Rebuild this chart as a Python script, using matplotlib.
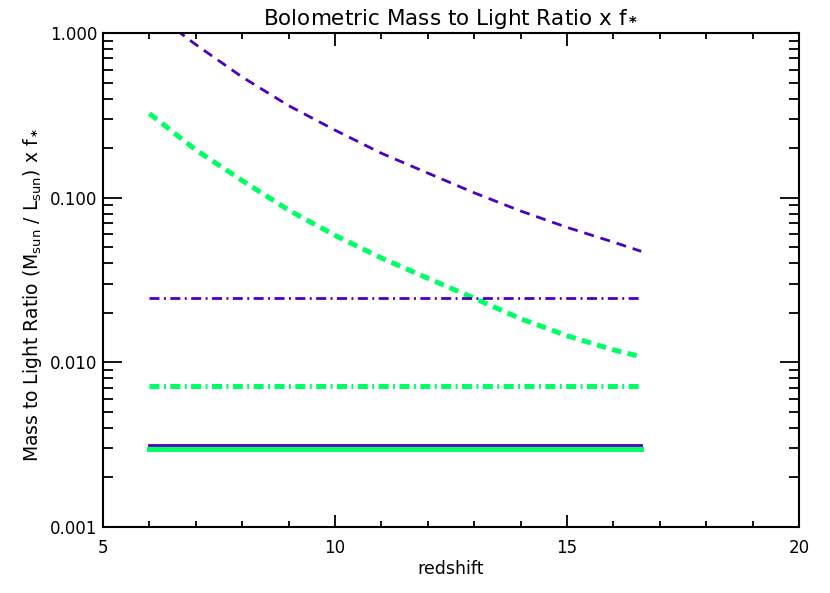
import numpy as np
import matplotlib
matplotlib.use('Agg')
import matplotlib.pyplot as plt
from matplotlib.ticker import FixedLocator, FixedFormatter, LogLocator, NullFormatter, MultipleLocator

plt.rcParams['font.family'] = ['DejaVu Sans']
plt.rcParams['mathtext.fontset'] = 'dejavusans'
plt.rcParams['lines.scale_dashes'] = False

# redshift grid of the curves
z = [6, 7, 8, 9, 10, 11, 12, 13, 14, 15, 16, 16.6]
# dashed curves
ml_purple_dash = [1.38, 0.85, 0.54, 0.362, 0.257, 0.186, 0.141, 0.107, 0.083, 0.066, 0.0537, 0.0472]
ml_green_dash = [0.324, 0.195, 0.127, 0.084, 0.059, 0.043, 0.0324, 0.0245, 0.0184, 0.0145, 0.0119, 0.0108]
# constant levels
z_flat = [6.0, 16.6]
ml_purple_dashdot = 0.0246
ml_green_dashdot = 0.0072
ml_purple_solid = 0.00315
ml_green_solid = 0.00296

purple = '#4c00c4'
green = '#00ff64'

fig = plt.figure(figsize=(8.3, 5.93), dpi=100)
ax = fig.add_axes([0.1241, 0.1113, 0.8386, 0.8331])

ax.plot(z, ml_purple_dash, color=purple, lw=2.0, dashes=(7.2, 5.0))
ax.plot(z, ml_green_dash, color=green, lw=3.6, dashes=(6.8, 4.6))
ax.plot(z_flat, [ml_purple_dashdot] * 2, color=purple, lw=2.0, dashes=(7.2, 3.2, 1.4, 3.2))
ax.plot(z_flat, [ml_green_dashdot] * 2, color=green, lw=3.6, dashes=(7.2, 3.2, 1.4, 3.2))
ax.plot(z_flat, [ml_purple_solid] * 2, color=purple, lw=2.0)
ax.plot(z_flat, [ml_green_solid] * 2, color=green, lw=3.6)

ax.set_yscale('log')
ax.set_xlim(5, 20)
ax.set_ylim(0.001, 1.0)

ax.xaxis.set_major_locator(FixedLocator([5, 10, 15, 20]))
ax.xaxis.set_major_formatter(FixedFormatter(['5', '10', '15', '20']))
ax.xaxis.set_minor_locator(MultipleLocator(1))
ax.yaxis.set_major_locator(FixedLocator([0.001, 0.01, 0.1, 1.0]))
ax.yaxis.set_major_formatter(FixedFormatter(['0.001', '0.010', '0.100', '1.000']))
ax.yaxis.set_minor_locator(LogLocator(base=10, subs=np.arange(2, 10)))
ax.yaxis.set_minor_formatter(NullFormatter())

ax.tick_params(which='both', direction='in', top=True, right=True, width=1.3, color='black')
ax.tick_params(axis='x', which='major', length=9, labelsize=12, pad=9)
ax.tick_params(axis='x', which='minor', length=4.5)
ax.tick_params(axis='y', which='major', length=14, labelsize=12, pad=4)
ax.tick_params(axis='y', which='minor', length=7)
for sp in ax.spines.values():
    sp.set_linewidth(1.5)

ax.set_title(r'Bolometric Mass to Light Ratio x f$_{\bf *}$', fontsize=15.5, pad=6)
ax.set_xlabel('redshift', fontsize=12.5, labelpad=2)
ax.set_ylabel(r'Mass to Light Ratio (M$_{\rm sun}$ / L$_{\rm sun}$) x f$_{\bf *}$', fontsize=13.5)
ax.yaxis.set_label_coords(-0.085, 0.47)

fig.savefig('out.png', dpi=100)
